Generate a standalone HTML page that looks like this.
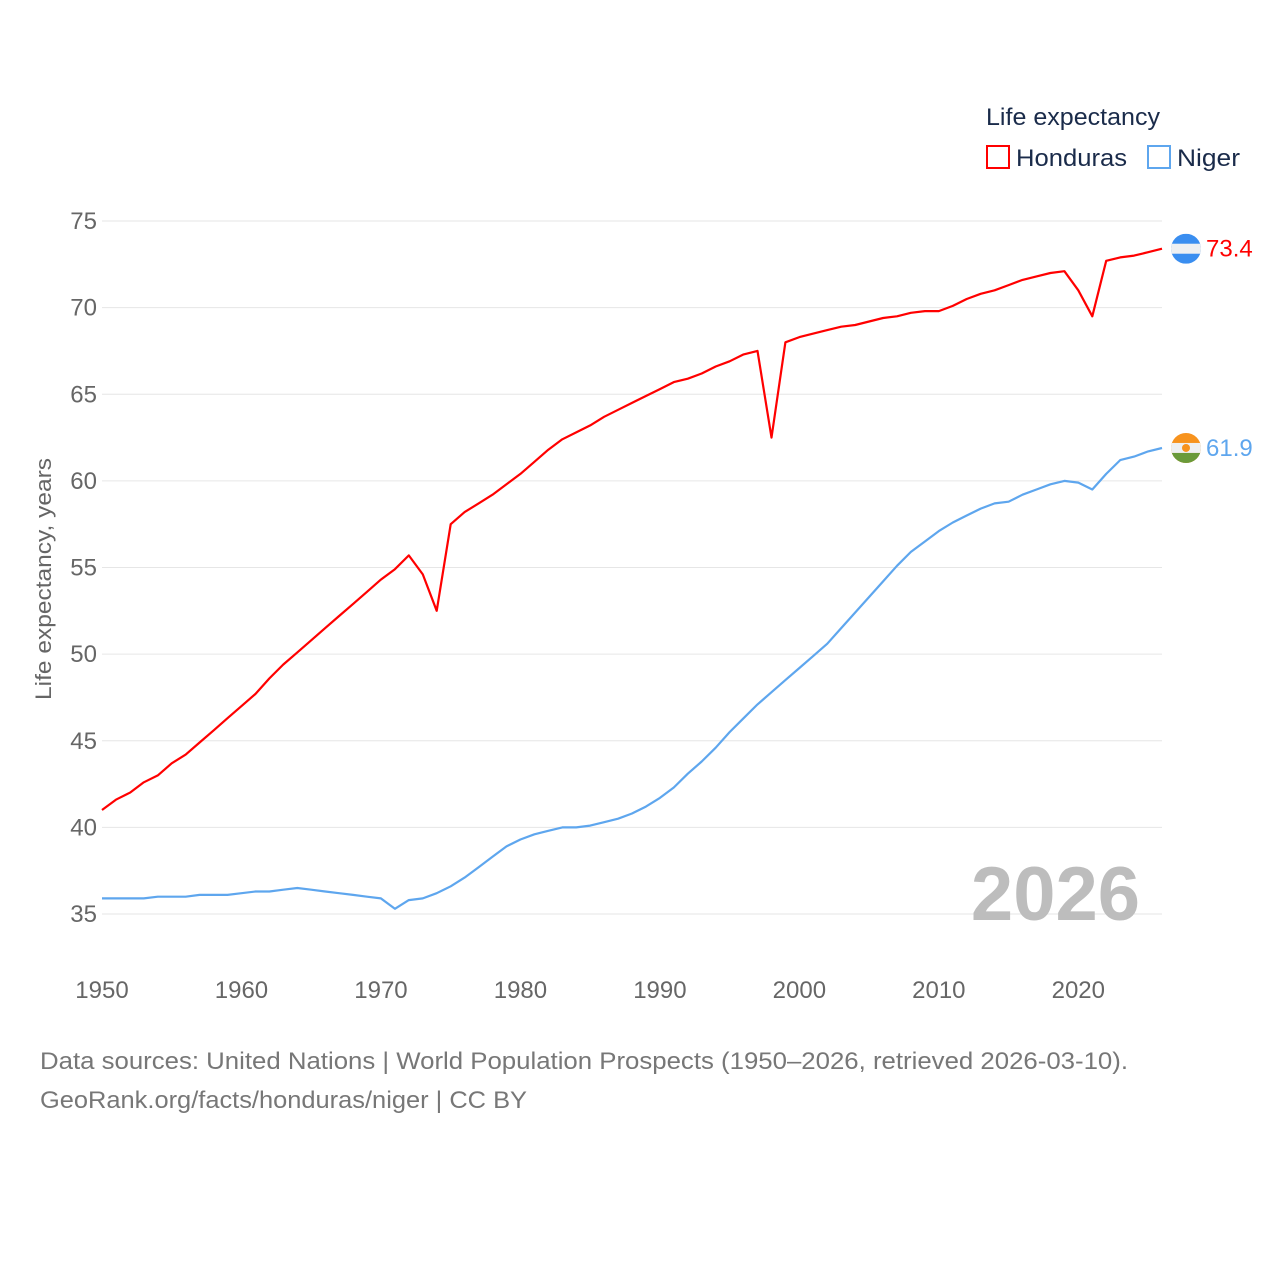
<!DOCTYPE html>
<html><head><meta charset="utf-8"><style>
body{margin:0;background:#fff;width:1280px;height:1280px;overflow:hidden;font-family:"Liberation Sans",sans-serif}
</style></head><body>
<svg id="chart" width="1280" height="1280" xmlns="http://www.w3.org/2000/svg" font-family="Liberation Sans, sans-serif">
<g id="grid"></g>
<g id="yticks"></g>
<g id="xticks"></g>
<text transform="translate(51,579) rotate(-90)" text-anchor="middle" font-size="22" fill="#666" textLength="242" lengthAdjust="spacingAndGlyphs">Life expectancy, years</text>
<text x="1140" y="920" text-anchor="end" font-size="76" font-weight="bold" fill="#bdbdbd">2026</text>
<g id="series"></g>
<g>
<text x="986" y="125" font-size="24" fill="#1a2b4a" textLength="174" lengthAdjust="spacingAndGlyphs">Life expectancy</text>
<g><rect x="987" y="146" width="22" height="22" fill="none" stroke="#ff0000" stroke-width="2"/><text x="1016" y="166" font-size="24" fill="#1a2b4a" textLength="111" lengthAdjust="spacingAndGlyphs">Honduras</text></g>
<g><rect x="1148" y="146" width="22" height="22" fill="none" stroke="#5ea6ee" stroke-width="2"/><text x="1177" y="166" font-size="24" fill="#1a2b4a" textLength="63" lengthAdjust="spacingAndGlyphs">Niger</text></g>
</g>
<text x="40" y="1069" font-size="24" fill="#777" textLength="1088" lengthAdjust="spacingAndGlyphs">Data sources: United Nations | World Population Prospects (1950–2026, retrieved 2026-03-10).</text>
<text x="40" y="1108" font-size="24" fill="#777" textLength="487" lengthAdjust="spacingAndGlyphs">GeoRank.org/facts/honduras/niger | CC BY</text>
</svg>
<script>
const years=[];for(let y=1950;y<=2026;y++)years.push(y);
const honduras=[41.0,41.6,42.0,42.6,43.0,43.7,44.2,44.9,45.6,46.3,47.0,47.7,48.6,49.4,50.1,50.8,51.5,52.2,52.9,53.6,54.3,54.9,55.7,54.6,52.5,57.5,58.2,58.7,59.2,59.8,60.4,61.1,61.8,62.4,62.8,63.2,63.7,64.1,64.5,64.9,65.3,65.7,65.9,66.2,66.6,66.9,67.3,67.5,62.5,68.0,68.3,68.5,68.7,68.9,69.0,69.2,69.4,69.5,69.7,69.8,69.8,70.1,70.5,70.8,71.0,71.3,71.6,71.8,72.0,72.1,71.0,69.5,72.7,72.9,73.0,73.2,73.4];
const niger=[35.9,35.9,35.9,35.9,36.0,36.0,36.0,36.1,36.1,36.1,36.2,36.3,36.3,36.4,36.5,36.4,36.3,36.2,36.1,36.0,35.9,35.3,35.8,35.9,36.2,36.6,37.1,37.7,38.3,38.9,39.3,39.6,39.8,40.0,40.0,40.1,40.3,40.5,40.8,41.2,41.7,42.3,43.1,43.8,44.6,45.5,46.3,47.1,47.8,48.5,49.2,49.9,50.6,51.5,52.4,53.3,54.2,55.1,55.9,56.5,57.1,57.6,58.0,58.4,58.7,58.8,59.2,59.5,59.8,60.0,59.9,59.5,60.4,61.2,61.4,61.7,61.9];
const yTicks=[35,40,45,50,55,60,65,70,75];
const xTicks=[1950,1960,1970,1980,1990,2000,2010,2020];
const NS="http://www.w3.org/2000/svg";
const X=v=>102+(v-1950)*(1162-102)/76;
const Y=v=>914-(v-35)*(914-221)/40;
function mk(t,a,p){const e=document.createElementNS(NS,t);for(const k in a)e.setAttribute(k,a[k]);p.appendChild(e);return e;}
const grid=document.getElementById('grid'),yt=document.getElementById('yticks'),xt=document.getElementById('xticks'),se=document.getElementById('series');
yTicks.forEach(v=>{
 const l=mk('line',{x1:102,x2:1162,y1:Y(v),y2:Y(v),stroke:'#e6e6e6','stroke-width':1},grid);
 
 
 const t=mk('text',{x:97,y:Y(v)+8,'text-anchor':'end','font-size':24,fill:'#666'},yt);t.textContent=v;
 
 
});
xTicks.forEach(v=>{
 const t=mk('text',{x:X(v),y:998,'text-anchor':'middle','font-size':24,fill:'#666'},xt);t.textContent=v;
 
 
});
function line(vals,color,name){
 const d=vals.map((v,i)=>(i?'L':'M')+X(years[i]).toFixed(1)+','+Y(v).toFixed(1)).join('');
 const p=mk('path',{d:d,fill:'none',stroke:color,'stroke-width':2.2,'stroke-linejoin':'round'},se);
 
 
}
line(honduras,'#ff0000','honduras');
line(niger,'#5ea6ee','niger');
const hv=honduras[honduras.length-1],nv=niger[niger.length-1],cx=1186;
const hg=mk('g',{},se);


mk('clipPath',{id:'c1'},hg).appendChild(document.createElementNS(NS,'circle')).setAttribute('r',15);
document.querySelector('#c1 circle').setAttribute('cx',cx);document.querySelector('#c1 circle').setAttribute('cy',Y(hv));
mk('rect',{x:cx-15,y:Y(hv)-15,width:30,height:30,fill:'#3a8ef0','clip-path':'url(#c1)'},hg);
mk('rect',{x:cx-15,y:Y(hv)-5,width:30,height:10,fill:'#eef0f2','clip-path':'url(#c1)'},hg);
const ng=mk('g',{},se);


mk('clipPath',{id:'c2'},ng).appendChild(document.createElementNS(NS,'circle')).setAttribute('r',15);
document.querySelector('#c2 circle').setAttribute('cx',cx);document.querySelector('#c2 circle').setAttribute('cy',Y(nv));
mk('rect',{x:cx-15,y:Y(nv)-15,width:30,height:30,fill:'#f7931e','clip-path':'url(#c2)'},ng);
mk('rect',{x:cx-15,y:Y(nv)-5,width:30,height:10,fill:'#eef0f2','clip-path':'url(#c2)'},ng);
mk('rect',{x:cx-15,y:Y(nv)+5,width:30,height:10,fill:'#6a9a3a','clip-path':'url(#c2)'},ng);
mk('circle',{cx:cx,cy:Y(nv),r:4,fill:'#f7931e'},ng);
const l1=mk('text',{x:1206,y:Y(hv)+8,'font-size':24,fill:'#ff0000'},se);l1.textContent=hv.toFixed(1);


const l2=mk('text',{x:1206,y:Y(nv)+8,'font-size':24,fill:'#5ea6ee'},se);l2.textContent=nv.toFixed(1);


</script>
</body></html>
